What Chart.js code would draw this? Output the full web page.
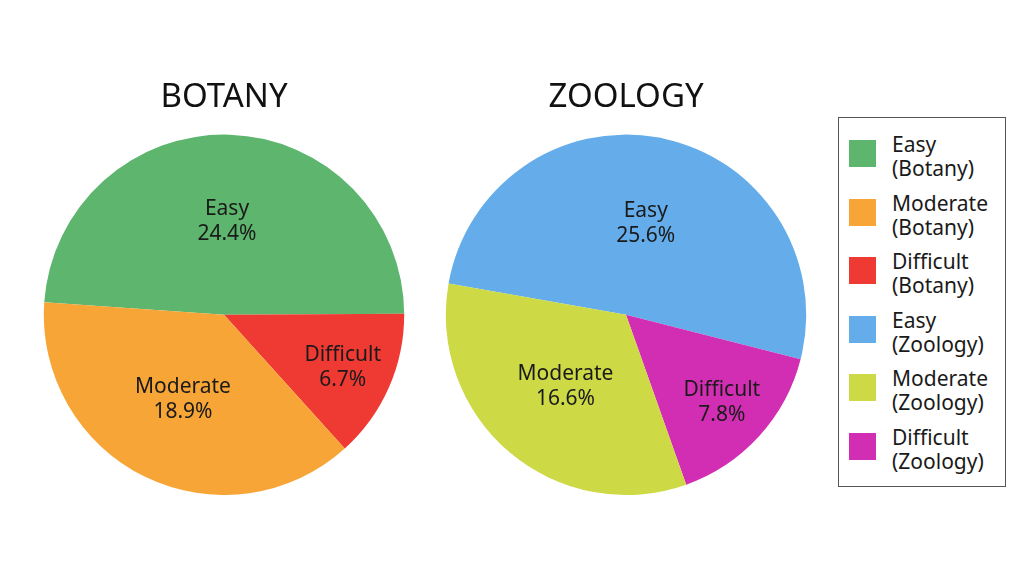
<!DOCTYPE html>
<html>
<head>
<meta charset="utf-8">
<script src="https://cdn.jsdelivr.net/npm/chart.js@4"></script>
<style>
  body { margin: 0; width: 1024px; height: 566px; background: #fff; position: relative; overflow: hidden;
         font-family: "Noto Sans", sans-serif; color: #1a1a1a; }
  .box { position: absolute; }
  #legend { position: absolute; left: 838px; top: 117px; width: 166px; height: 368px;
            border: 1px solid #555; box-sizing: content-box; }
  .item { position: absolute; left: 10px; }
  .sw { position: absolute; left: 0; top: 0; width: 27px; height: 27px; }
  .txt { position: absolute; left: 43px; top: -8px; font-size: 21px; line-height: 24px; white-space: nowrap; }
</style>
</head>
<body>
<div class="box" style="left:24px; top:70px; width:400px; height:425px;"><canvas id="botany"></canvas></div>
<div class="box" style="left:426px; top:70px; width:400px; height:425px;"><canvas id="zoology"></canvas></div>
<div id="legend"></div>
<script>
// difficulty levels, same order for both subjects
const levels = ['Easy', 'Moderate', 'Difficult'];
const botany = [24.4, 18.9, 6.7];
const zoology = [25.6, 16.6, 7.8];
const botanyColors = ['#5db56e', '#f7a536', '#ef3a33'];
const zoologyColors = ['#64adea', '#cdd945', '#d22eb4'];

// slices run clockwise Easy -> Difficult -> Moderate in the picture
const drawOrder = [0, 2, 1];

const sliceLabels = {
  id: 'sliceLabels',
  afterDatasetsDraw(chart) {
    const ctx = chart.ctx;
    const meta = chart.getDatasetMeta(0);
    const ds = chart.data.datasets[0];
    ctx.save();
    ctx.fillStyle = '#1a1a1a';
    ctx.font = '21px "Noto Sans", sans-serif';
    ctx.textAlign = 'center';
    ctx.textBaseline = 'middle';
    meta.data.forEach((arc, i) => {
      const p = arc.getProps(['x', 'y', 'startAngle', 'endAngle', 'outerRadius'], true);
      const mid = (p.startAngle + p.endAngle) / 2;
      const span = p.endAngle - p.startAngle;
      const f = span < 1.2 ? 0.72 : 0.52;
      const x = p.x + Math.cos(mid) * p.outerRadius * f;
      const y = p.y + Math.sin(mid) * p.outerRadius * f;
      ctx.fillText(chart.data.labels[i], x, y - 12);
      ctx.fillText(ds.data[i].toFixed(1) + '%', x, y + 13);
    });
    ctx.restore();
  }
};

function makePie(id, title, values, colors, rotation) {
  new Chart(document.getElementById(id), {
    type: 'pie',
    data: {
      labels: drawOrder.map(i => levels[i]),
      datasets: [{
        data: drawOrder.map(i => values[i]),
        backgroundColor: drawOrder.map(i => colors[i]),
        borderWidth: 0
      }]
    },
    options: {
      responsive: true,
      maintainAspectRatio: false,
      animation: false,
      rotation: rotation,
      layout: { padding: 0 },
      plugins: {
        legend: { display: false },
        tooltip: { enabled: false },
        title: {
          display: true,
          text: title,
          color: '#111',
          font: { family: '"Noto Sans", sans-serif', size: 33, weight: 'normal' },
          padding: { top: 8, bottom: 17 }
        }
      }
    },
    plugins: [sliceLabels]
  });
}

makePie('botany', 'BOTANY', botany, botanyColors, -86);
makePie('zoology', 'ZOOLOGY', zoology, zoologyColors, -80);

// combined legend
const legend = document.getElementById('legend');
const entries = [];
levels.forEach((l, i) => entries.push([l, 'Botany', botanyColors[i]]));
levels.forEach((l, i) => entries.push([l, 'Zoology', zoologyColors[i]]));
entries.forEach((e, i) => {
  const div = document.createElement('div');
  div.className = 'item';
  div.style.top = (22 + i * 58.5) + 'px';
  div.innerHTML = '<div class="sw" style="background:' + e[2] + '"></div>' +
    '<div class="txt">' + e[0] + '<br>(' + e[1] + ')</div>';
  legend.appendChild(div);
});
</script>
</body>
</html>
